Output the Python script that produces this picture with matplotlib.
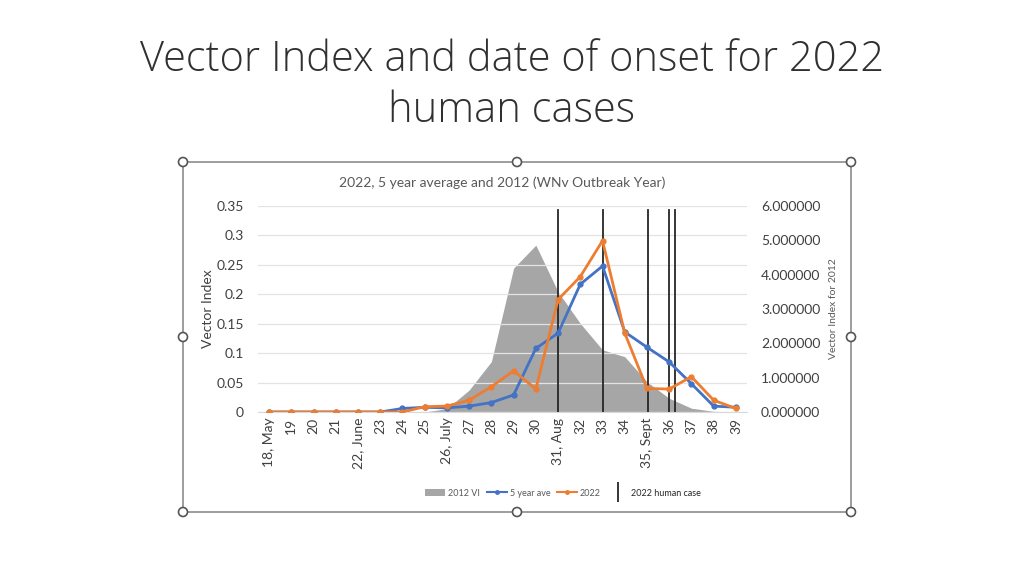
import matplotlib
matplotlib.use("Agg")
import matplotlib.pyplot as plt
import numpy as np
from matplotlib.lines import Line2D
from matplotlib.patches import Patch, Rectangle, Circle

plt.rcParams['font.family'] = ['Lato', 'DejaVu Sans']

weeks = ["18, May", "19", "20", "21", "22, June", "23", "24", "25", "26, July", "27",
         "28", "29", "30", "31, Aug", "32", "33", "34", "35, Sept", "36", "37", "38", "39"]
vi_2012 = [0, 0, 0, 0, 0, 0, 0, 0.0, 0.1, 0.64, 1.47, 4.19, 4.86, 3.5, 2.58, 1.81, 1.61,
           0.88, 0.4, 0.11, 0.02, 0.0]
five_year = [0, 0, 0, 0, 0, 0, 0.006, 0.008, 0.007, 0.010, 0.016, 0.029, 0.108, 0.134,
             0.217, 0.248, 0.136, 0.110, 0.085, 0.048, 0.010, 0.008]
vi_2022 = [0, 0, 0, 0, 0, 0, 0.0, 0.009, 0.010, 0.020, 0.043, 0.070, 0.039, 0.191,
           0.230, 0.291, 0.134, 0.040, 0.039, 0.060, 0.020, 0.006]
human_case_pos = [13, 15, 17.05, 18, 18.27]   # category positions of 2022 human cases
left_ticks = [0, 0.05, 0.1, 0.15, 0.2, 0.25, 0.3, 0.35]
right_ticks = [0, 1, 2, 3, 4, 5, 6]

W, H = 1024, 576
fig = plt.figure(figsize=(W / 100, H / 100), dpi=100)
fig.patch.set_facecolor('white')

def fx(px):
    return px / W
def fy(py):
    return 1 - py / H

# slide title
fig.text(0.5, fy(60), "Vector Index and date of onset for 2022", ha='center', va='center',
         fontsize=30, color='#303030', fontfamily=['Open Sans', 'DejaVu Sans'],
         fontweight=300)
fig.text(0.5, fy(111), "human cases", ha='center', va='center',
         fontsize=30, color='#303030', fontfamily=['Open Sans', 'DejaVu Sans'],
         fontweight=300)

# chart frame with handles
frame = Rectangle((fx(183), fy(512)), fx(851) - fx(183), fy(162) - fy(512),
                  transform=fig.transFigure, fill=False, edgecolor='#8c8c8c', lw=1.2)
fig.add_artist(frame)
for hx, hy in [(183, 162), (517, 162), (851, 162), (183, 337), (851, 337),
               (183, 512), (517, 512), (851, 512)]:
    c = Circle((hx, H - hy), 4.5, transform=None, facecolor='white',
               edgecolor='#555555', lw=1.2, zorder=10)
    fig.add_artist(c)

# axes
ax = fig.add_axes([fx(258), fy(412), fx(747) - fx(258), (412 - 206) / H])
ax2 = ax.twinx()
x = np.arange(len(weeks))

ax2.fill_between(x, vi_2012, 0, color='#a6a6a6', lw=0, zorder=1)
ax2.set_ylim(0, 6)
ax2.set_yticks(right_ticks)
ax2.set_yticklabels([f"{v:.6f}" for v in right_ticks], fontsize=10, color='#404040')
ax2.set_ylabel("Vector Index for 2012", fontsize=7.5, color='#595959', labelpad=6)

ax.set_zorder(ax2.get_zorder() + 1)
ax.patch.set_visible(False)
ax.set_ylim(0, 0.35)
ax.set_xlim(-0.5, len(weeks) - 0.5)
ax.set_yticks(left_ticks)
ax.set_yticklabels([f"{v:g}" for v in left_ticks], fontsize=10, color='#404040')
ax.grid(axis='y', color='#e3e3e3', lw=0.9)
ax.set_axisbelow(True)
for t in human_case_pos:
    ax.axvline(t, ymin=0, ymax=0.98, color='#262626', lw=1.3, zorder=5)
ax.plot(x, five_year, color='#4472c4', lw=2, marker='o', ms=3.5, zorder=6)
ax.plot(x, vi_2022, color='#ed7d31', lw=2, marker='o', ms=3.5, zorder=7)
ax.set_xticks(x)
ax.set_xticklabels(weeks, rotation=90, fontsize=10, color='#404040')
ax.set_ylabel("Vector Index", fontsize=10, color='#404040', labelpad=2)
ax.set_title("2022, 5 year average and 2012 (WNv Outbreak Year)", fontsize=10,
             color='#595959', pad=14)

for a in (ax, ax2):
    for s in a.spines.values():
        s.set_visible(False)
    a.tick_params(length=0)
ax.spines['bottom'].set_visible(True)
ax.spines['bottom'].set_color('#d9d9d9')
ax.tick_params(axis='y', pad=10)
ax2.tick_params(axis='y', pad=10)
ax.tick_params(axis='x', pad=4)

handles = [Patch(facecolor='#a6a6a6', edgecolor='none'),
           Line2D([], [], color='#4472c4', lw=1.5, marker='o', ms=2.5),
           Line2D([], [], color='#ed7d31', lw=1.5, marker='o', ms=2.5),
           Line2D([], [], color='#262626', lw=0, marker='|', ms=14, mew=1.3)]
labels = ["2012 VI", "5 year ave", "2022", "2022 human case"]
leg = fig.legend(handles, labels, loc='center', bbox_to_anchor=(fx(563), fy(493)),
                 ncol=4, frameon=False, fontsize=6.5, handlelength=2.2,
                 columnspacing=0.8, handletextpad=0.3, labelcolor='#595959')
leg.get_texts()[3].set_color('#262626')

fig.savefig("out.png", dpi=100)
